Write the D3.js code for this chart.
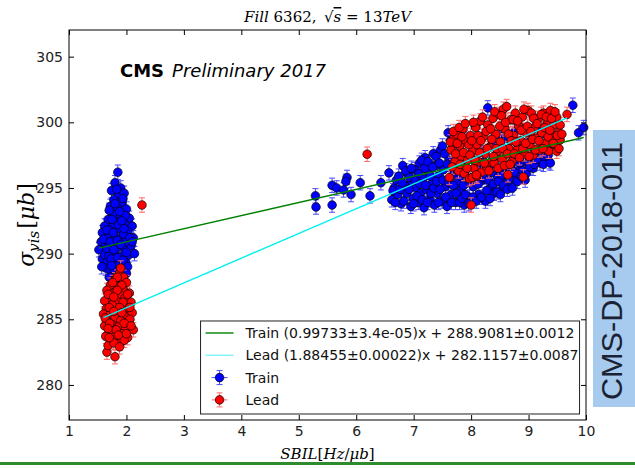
<!DOCTYPE html>
<html>
<head>
<meta charset="utf-8">
<script src="https://cdn.jsdelivr.net/npm/d3@7"></script>
<style>
  body { margin: 0; background: #fff; }
  .tick text { font-family: "DejaVu Sans", sans-serif; font-size: 14px; fill: #222; }
  .tick line { stroke: #000; }
  .legend-text { font-family: "DejaVu Sans", sans-serif; font-size: 14px; fill: #111; }
</style>
</head>
<body>
<svg width="635" height="468"></svg>
<script>
// sigma_vis vs SBIL, Train and Lead bunches, fill 6362
const xTicks = [1, 2, 3, 4, 5, 6, 7, 8, 9, 10];
const yTicks = [280, 285, 290, 295, 300, 305];

// [SBIL, sigma_vis]
const trainPoints = [
  // low SBIL
  [1.85,296.2],[1.80,295.4],[1.90,295.0],[1.74,294.8],[1.86,294.5],[1.96,294.6],[1.78,294.1],
  [1.92,293.9],[1.72,293.6],[1.84,293.5],[2.00,293.4],[1.76,293.0],[1.90,292.9],[2.05,292.7],
  [1.68,292.6],[1.82,292.4],[1.96,292.3],[1.62,292.1],[1.74,292.0],[1.88,291.9],[2.10,292.1],
  [2.02,291.7],[1.58,291.6],[1.68,291.4],[1.80,291.3],[1.93,291.2],[2.12,291.2],[1.56,290.9],
  [1.64,290.7],[1.74,290.6],[1.86,290.5],[1.98,290.4],[2.08,290.6],[1.60,290.2],[1.70,290.0],
  [1.81,289.9],[1.92,289.8],[2.04,289.9],[1.58,289.6],[1.66,289.4],[1.76,289.3],[1.88,289.2],
  [1.99,289.3],[1.64,288.9],[1.72,288.7],[1.84,288.6],[1.95,288.7],[1.70,288.2],[1.80,288.1],
  [1.90,288.0],[1.52,290.3],[2.14,290.0],[1.70,291.8],[1.94,294.2],[1.99,290.9],
  [1.60,291.1],[1.66,291.8],[1.72,290.9],[1.77,291.6],[1.84,291.0],[1.90,290.7],[1.95,291.5],
  [2.00,290.1],[2.06,291.2],[1.62,289.9],[1.69,289.8],[1.73,289.6],[1.85,289.7],[1.94,289.5],
  [2.02,289.0],[1.78,288.8],[1.90,288.4],[1.75,292.6],[1.86,292.2],[1.98,292.9],[1.80,293.8],
  [1.88,293.2],[1.83,294.9],[1.92,292.5],[1.66,290.4],[1.78,290.3],[2.10,290.9],[1.96,291.9],
  [1.70,293.3],[2.00,288.5],[1.74,289.1],[1.57,289.0],
  // high SBIL
  [5.29,294.4],[5.30,293.55],[5.58,295.2],[5.58,293.7],[5.66,295.0],[5.78,294.85],[5.84,295.8],
  [5.82,295.5],[5.91,294.5],[6.07,295.4],[6.24,294.4],[6.43,295.4],[6.57,296.15],
  [6.62,294.1],[6.66,295.0],[6.70,295.6],[6.72,294.5],[6.78,293.8],[6.81,296.7],[6.84,295.2],
  [6.88,294.6],[6.90,296.0],[6.95,293.6],[6.97,295.5],[6.99,294.2],[7.02,296.4],[7.05,295.0],
  [7.08,293.9],[7.10,296.9],[7.12,294.6],[7.16,295.7],[7.18,293.5],[7.20,297.3],[7.22,294.9],
  [7.26,296.2],[7.28,294.1],[7.31,295.3],[7.34,297.6],[7.36,293.7],[7.38,296.7],[7.41,294.6],
  [7.44,295.9],[7.47,297.9],[7.49,294.0],[7.52,296.4],[7.55,295.1],[7.58,293.6],[7.60,299.2],
  [7.62,297.1],[7.65,294.5],[7.68,296.0],[7.71,298.3],[7.73,293.9],[7.76,295.4],[7.79,297.5],
  [7.82,294.8],[7.85,296.6],[7.88,293.7],[7.91,298.7],[7.94,295.8],[7.97,294.3],[8.01,297.2],
  [8.04,295.1],[8.07,299.7],[8.10,296.3],[8.13,294.5],[8.16,298.0],[8.19,295.6],[8.22,297.0],
  [8.25,294.0],[8.29,301.1],[8.31,296.8],[8.34,295.0],[8.37,298.4],[8.40,294.6],[8.43,297.5],
  [8.46,295.9],[8.49,299.0],[8.52,296.3],[8.55,294.9],[8.58,297.9],[8.61,295.5],[8.64,298.8],
  [8.67,296.8],[8.70,295.2],[8.73,297.4],[8.76,299.3],[8.79,295.8],[8.82,298.1],[8.85,296.4],
  [8.88,299.6],[8.91,297.0],[8.94,295.6],[8.97,298.5],[9.00,296.9],[9.04,299.0],[9.08,296.5],
  [9.12,297.8],[9.16,299.5],[9.20,296.9],[9.24,298.3],[9.28,297.3],[9.32,299.0],[9.36,297.0],
  [9.40,298.2],[9.77,301.3],[9.87,299.2],[9.96,299.6],
  [6.64,294.8],[6.68,293.9],[6.74,295.9],[6.76,294.9],[6.80,295.4],[6.83,294.0],[6.86,296.3],
  [6.92,294.9],[6.93,295.8],[6.96,296.5],[7.00,293.8],[7.03,295.6],[7.06,294.4],[7.09,296.1],
  [7.11,295.3],[7.14,297.1],[7.15,294.1],[7.19,296.5],[7.21,295.2],[7.24,293.9],[7.25,297.0],
  [7.29,295.9],[7.30,294.6],[7.33,296.6],[7.35,295.0],[7.39,297.4],[7.40,295.5],[7.43,293.9],
  [7.45,296.9],[7.46,294.9],[7.50,298.2],[7.51,295.6],[7.54,297.6],[7.56,294.3],[7.59,296.8],
  [7.61,295.4],[7.64,298.6],[7.66,293.9],[7.69,295.2],[7.70,297.0],[7.74,294.6],[7.77,296.3],
  [7.80,293.9],[7.81,295.9],[7.84,294.2],[7.87,295.2],[7.90,294.5],[7.92,296.0],[7.96,293.8],
  [7.98,295.4],[8.03,294.3],[8.06,295.7],[8.09,294.0],[8.12,295.3],[8.15,296.4],[8.18,294.3],
  [8.21,295.8],[8.24,296.5],[8.27,294.8],[8.30,295.6],[8.33,294.2],[8.36,296.2],[8.39,295.3],
  [8.42,296.6],[8.45,294.7],[8.48,295.5],[8.51,294.5],[8.54,296.0],[8.57,295.2],[8.60,296.5],
  [8.63,294.9],[8.66,295.7],[8.69,296.6],[8.72,295.0],[8.75,296.2],[8.78,297.1],[8.81,295.5],
  [8.84,296.9],[8.87,295.9],[8.90,296.3],[8.93,297.4],[8.96,296.1],[8.99,297.8],[9.02,296.6],
  [9.06,297.4],[9.10,296.8],[9.14,297.2],[9.18,298.0],[9.22,297.6],[9.26,296.8],[9.30,298.1],
  [9.34,297.5],[9.38,296.9]
];

const leadPoints = [
  // low SBIL
  [1.88,288.5],[1.95,288.2],[1.80,288.0],[2.00,287.8],[1.72,287.6],[1.86,287.5],[1.94,287.3],
  [1.66,287.2],[1.78,287.0],[2.05,287.0],[1.88,286.9],[1.70,286.6],[1.97,286.6],[1.62,286.4],
  [1.82,286.4],[2.08,286.3],[1.75,286.1],[1.92,286.0],[1.65,285.8],[2.01,285.8],[1.85,285.6],
  [1.60,285.4],[1.72,285.4],[1.96,285.3],[2.10,285.5],[1.80,285.1],[1.66,284.9],[1.90,284.9],
  [2.04,284.8],[1.62,284.5],[1.75,284.6],[1.85,284.4],[1.98,284.3],[2.12,284.2],[1.70,284.1],
  [1.92,283.9],[1.64,283.7],[1.80,283.7],[2.02,283.6],[1.74,283.3],[1.89,283.2],[1.96,283.4],
  [1.66,282.5],[1.80,282.15],[1.90,288.9],[2.06,285.0],[1.68,283.0],[2.27,293.7],
  [1.84,288.2],[1.76,287.8],[1.92,287.6],[1.68,286.9],[1.84,287.2],[2.02,286.9],[1.78,286.7],
  [1.94,286.3],[1.70,285.9],[1.88,285.9],[2.06,285.9],[1.78,285.6],[1.63,285.1],[1.92,285.5],
  [1.71,284.7],[1.96,284.7],[1.82,284.2],[2.08,284.5],[1.68,284.3],[1.78,283.2],[1.86,283.8],
  [2.00,283.9],[1.70,283.6],[1.88,282.9],
  // high SBIL
  [6.19,297.57],[8.00,293.7],[7.62,295.8],[7.65,297.9],[7.70,298.8],[7.72,297.0],[7.75,299.1],
  [7.78,296.3],[7.80,298.2],[7.83,297.4],[7.86,299.5],[7.88,296.1],[7.91,298.6],[7.94,297.1],
  [7.97,295.7],[7.99,299.0],[8.02,297.8],[8.05,296.5],[8.08,299.6],[8.10,298.3],[8.13,297.0],
  [8.16,300.1],[8.18,296.2],[8.21,298.9],[8.24,297.6],[8.27,296.6],[8.29,299.8],[8.32,298.1],
  [8.35,297.0],[8.38,300.3],[8.40,296.9],[8.43,299.1],[8.46,297.8],[8.49,300.6],[8.51,298.5],
  [8.54,297.2],[8.56,301.0],[8.59,299.5],[8.62,301.2],[8.64,296.0],[8.66,298.0],[8.69,300.2],
  [8.71,297.0],[8.74,299.0],[8.77,300.7],[8.80,297.9],[8.83,299.7],[8.86,298.6],[8.89,300.4],
  [8.91,295.84],[8.93,297.6],[8.96,299.2],[8.99,300.9],[9.02,298.3],[9.05,300.7],[9.08,297.5],
  [9.10,299.6],[9.14,298.8],[9.17,300.3],[9.20,297.9],[9.23,299.2],[9.26,300.7],[9.29,298.4],
  [9.32,299.9],[9.35,297.8],[9.38,300.9],[9.41,298.9],[9.44,299.8],[9.47,298.2],[9.49,300.4],
  [9.52,299.2],[9.55,298.65],[9.49,297.8],[9.67,300.6],[8.02,295.8],[8.10,295.9],
  [7.64,298.5],[7.67,296.6],[7.69,299.3],[7.73,297.6],[7.76,298.4],[7.79,299.6],[7.81,296.8],
  [7.84,298.9],[7.87,297.7],[7.90,299.9],[7.93,296.5],[7.96,298.3],[7.98,297.5],[8.01,298.6],
  [8.04,300.0],[8.07,297.1],[8.09,296.0],[8.12,299.0],[8.15,297.7],[8.17,298.6],[8.20,300.4],
  [8.23,296.9],[8.26,299.3],[8.28,298.0],[8.31,296.3],[8.34,299.5],[8.36,298.7],[8.39,297.4],
  [8.41,300.8],[8.44,298.0],[8.47,296.5],[8.50,299.7],[8.53,300.5],[8.55,298.0],[8.58,296.7],
  [8.60,300.0],[8.63,297.6],[8.65,299.1],[8.68,296.8],[8.70,298.6],[8.73,300.2],[8.75,297.6],
  [8.78,298.5],[8.81,300.1],[8.84,297.3],[8.87,299.4],[8.90,298.0],[8.92,301.0],[8.95,298.4],
  [8.98,299.7],[9.01,297.4],[9.04,299.3],[9.07,298.7],[9.09,300.3],[9.12,297.9],[9.15,299.9],
  [9.18,298.6],[9.22,300.6],[9.25,298.0],[9.28,299.6],[9.31,300.4],[9.34,298.9],[9.37,299.4],
  [9.40,300.3],[9.43,298.4],[9.46,300.8],[9.50,299.0],[9.53,298.0],[9.55,299.8],[9.58,299.1]
];

const trainErr = 0.55;
const leadErr = 0.55;
const sbilErr = 0.03;

// linear fits: [slope, slope error, intercept, intercept error]
const trainFit = [0.99733, '3.4e-05', 288.9081, '0.0012'];
const leadFit = [1.88455, '0.00022', 282.1157, '0.0087'];

const svg = d3.select('svg');

const margin = { top: 30, right: 49, bottom: 48, left: 69 };
const innerWidth = 635 - margin.left - margin.right;
const innerHeight = 468 - margin.top - margin.bottom;

const xScale = d3.scaleLinear().domain([1, 10]).range([0, innerWidth]);
const yScale = d3.scaleLinear().domain([277.33, 307.03]).range([innerHeight, 0]);

const g = svg.append('g')
    .attr('transform', `translate(${margin.left}, ${margin.top})`);

// axes, ticks pointing inward on all four sides
g.append('g')
    .attr('transform', `translate(0, ${innerHeight})`)
    .call(d3.axisBottom(xScale).tickValues(xTicks).tickSizeInner(-5).tickSizeOuter(0).tickPadding(6));
g.append('g')
    .call(d3.axisLeft(yScale).tickValues(yTicks).tickSizeInner(-5).tickSizeOuter(0).tickPadding(6));
g.append('g')
    .call(d3.axisTop(xScale).tickValues(xTicks).tickSizeInner(-5).tickSizeOuter(0))
    .selectAll('text').remove();
g.append('g')
    .attr('transform', `translate(${innerWidth}, 0)`)
    .call(d3.axisRight(yScale).tickValues(yTicks).tickSizeInner(-5).tickSizeOuter(0))
    .selectAll('text').remove();
g.selectAll('.domain').remove();

const drawSeries = (points, err, color, barColor) => {
    const s = g.append('g');
    const bars = s.selectAll('.bar').data(points).enter().append('g')
        .attr('stroke', barColor)
        .attr('stroke-width', 1);
    bars.append('line')
        .attr('x1', d => xScale(d[0])).attr('x2', d => xScale(d[0]))
        .attr('y1', d => yScale(d[1] - err)).attr('y2', d => yScale(d[1] + err));
    bars.append('line')
        .attr('x1', d => xScale(d[0]) - 3).attr('x2', d => xScale(d[0]) + 3)
        .attr('y1', d => yScale(d[1] - err)).attr('y2', d => yScale(d[1] - err));
    bars.append('line')
        .attr('x1', d => xScale(d[0]) - 3).attr('x2', d => xScale(d[0]) + 3)
        .attr('y1', d => yScale(d[1] + err)).attr('y2', d => yScale(d[1] + err));
    bars.append('line')
        .attr('x1', d => xScale(d[0] - sbilErr)).attr('x2', d => xScale(d[0] + sbilErr))
        .attr('y1', d => yScale(d[1])).attr('y2', d => yScale(d[1]));
    s.selectAll('circle').data(points).enter().append('circle')
        .attr('cx', d => xScale(d[0]))
        .attr('cy', d => yScale(d[1]))
        .attr('r', 4.3)
        .attr('fill', color)
        .attr('stroke', '#000')
        .attr('stroke-width', 0.7);
};

drawSeries(trainPoints, trainErr, '#0000ff', '#4a4aff');
drawSeries(leadPoints, leadErr, '#ff0000', '#ff6a6a');

// fit lines over the data range of each series
const fitLine = (points, fit, color) => {
    const ext = d3.extent(points, d => d[0]);
    g.append('line')
        .attr('x1', xScale(ext[0])).attr('x2', xScale(ext[1]))
        .attr('y1', yScale(fit[0] * ext[0] + fit[2]))
        .attr('y2', yScale(fit[0] * ext[1] + fit[2]))
        .attr('stroke', color)
        .attr('stroke-width', 1.4);
};
fitLine(trainPoints, trainFit, '#008000');
fitLine(leadPoints, leadFit, '#00f0f0');

// frame
g.append('rect')
    .attr('width', innerWidth).attr('height', innerHeight)
    .attr('fill', 'none').attr('stroke', '#000').attr('stroke-width', 1);

// legend, lower right
const legend = g.append('g').attr('transform', `translate(${xScale(3.29)}, ${yScale(284.87)})`);
legend.append('rect')
    .attr('width', 379).attr('height', 93)
    .attr('fill', '#fff').attr('stroke', '#222').attr('stroke-width', 1);
const fitLabel = (name, fit) =>
    `${name} (${fit[0]}\u00b1${fit[1]})x + ${fit[2]}\u00b1${fit[3]}`;
const legendRows = [
    { type: 'line', color: '#008000', label: fitLabel('Train', trainFit) },
    { type: 'line', color: '#7ff5f5', label: fitLabel('Lead', leadFit) },
    { type: 'marker', color: '#0000ff', bar: '#4a4aff', label: 'Train' },
    { type: 'marker', color: '#ff0000', bar: '#ff6a6a', label: 'Lead' }
];
legendRows.forEach((row, i) => {
    const cy = 12 + i * 22.3;
    const r = legend.append('g').attr('transform', `translate(0, ${cy})`);
    if (row.type === 'line') {
        r.append('line').attr('x1', 5).attr('x2', 33).attr('y1', 0).attr('y2', 0)
            .attr('stroke', row.color).attr('stroke-width', 1.4);
    } else {
        r.append('path').attr('d', 'M19,-7V7M16,-7H22M16,7H22M11,0H27')
            .attr('stroke', row.bar).attr('fill', 'none');
        r.append('circle').attr('cx', 19).attr('cy', 0).attr('r', 4.3)
            .attr('fill', row.color).attr('stroke', '#000').attr('stroke-width', 0.7);
    }
    r.append('text').attr('class', 'legend-text')
        .attr('x', 45).attr('y', 5).text(row.label);
});

// CMS label
const cms = g.append('text')
    .attr('x', 51).attr('y', 47)
    .attr('font-family', 'DejaVu Sans, sans-serif')
    .attr('font-size', 18);
cms.append('tspan').attr('font-weight', 'bold').text('CMS');
cms.append('tspan').attr('font-style', 'italic').attr('dx', 8).text('Preliminary 2017');

// title
const title = svg.append('text')
    .attr('x', margin.left + innerWidth / 2).attr('y', 22)
    .attr('text-anchor', 'middle')
    .attr('font-family', 'DejaVu Serif, serif')
    .attr('font-size', 15);
title.append('tspan').attr('font-style', 'italic').text('Fill');
title.append('tspan').text(' 6362,\u2002\u221a');
title.append('tspan').attr('font-style', 'italic').attr('text-decoration', 'overline').text('s');
title.append('tspan').text(' = 13');
title.append('tspan').attr('font-style', 'italic').text('TeV');

// axis labels
const xLabel = svg.append('text')
    .attr('x', margin.left + innerWidth / 2).attr('y', 459)
    .attr('text-anchor', 'middle')
    .attr('font-family', 'DejaVu Serif, serif')
    .attr('font-size', 15);
xLabel.append('tspan').attr('font-style', 'italic').text('SBIL');
xLabel.append('tspan').text('[');
xLabel.append('tspan').attr('font-style', 'italic').text('Hz');
xLabel.append('tspan').text('/');
xLabel.append('tspan').attr('font-style', 'italic').text('\u03bcb');
xLabel.append('tspan').text(']');

const yLabel = svg.append('text')
    .attr('transform', `translate(34, ${margin.top + innerHeight / 2}) rotate(-90)`)
    .attr('text-anchor', 'middle')
    .attr('font-family', 'DejaVu Serif, serif')
    .attr('font-size', 22);
yLabel.append('tspan').attr('font-style', 'italic').text('\u03c3');
yLabel.append('tspan').attr('font-style', 'italic').attr('font-size', 15).attr('dy', 5).text('vis');
yLabel.append('tspan').attr('dy', -5).attr('dx', 2).text('[');
yLabel.append('tspan').attr('font-style', 'italic').text('\u03bcb');
yLabel.append('tspan').text(']');

// document tag on the right edge
svg.append('rect')
    .attr('x', 593).attr('y', 130).attr('width', 42).attr('height', 277)
    .attr('fill', '#a6cbef');
svg.append('text')
    .attr('transform', 'translate(622, 400) rotate(-90)')
    .attr('font-family', 'Liberation Sans Narrow, Liberation Sans, sans-serif')
    .attr('font-size', 29)
    .attr('fill', '#1b2233')
    .attr('textLength', 258)
    .attr('lengthAdjust', 'spacingAndGlyphs')
    .text('CMS-DP-2018-011');

// green rule at the bottom
svg.append('rect')
    .attr('x', 0).attr('y', 462).attr('width', 635).attr('height', 3)
    .attr('fill', '#2e8b2e');
</script>
</body>
</html>
